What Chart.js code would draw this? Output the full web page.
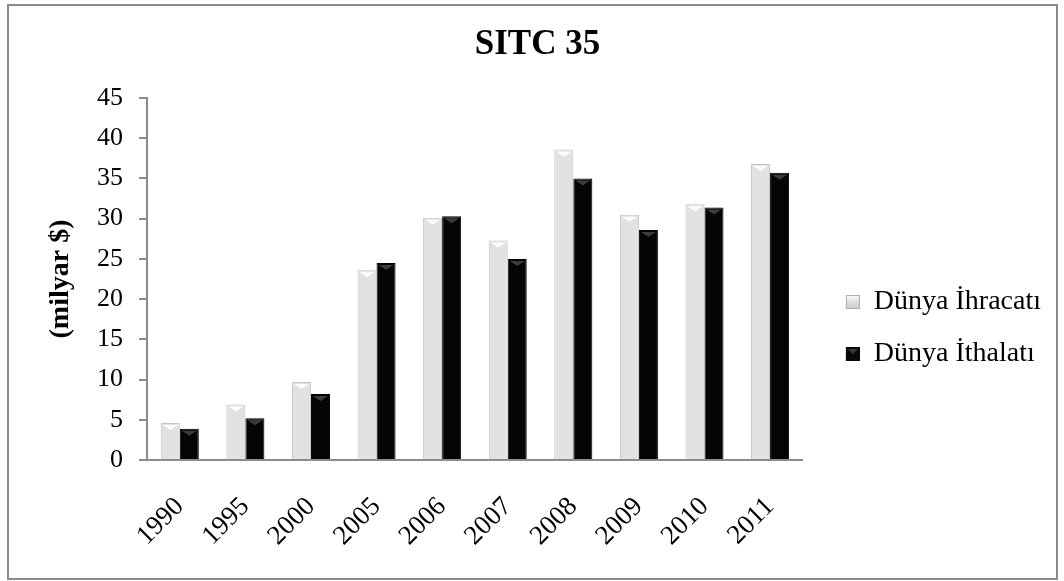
<!DOCTYPE html>
<html>
<head>
<meta charset="utf-8">
<script src="https://cdn.jsdelivr.net/npm/chart.js@4"></script>
<style>
  html, body { margin: 0; padding: 0; background: #fff; overflow: hidden; }
  #sitcChart { position: absolute; left: 0; top: 0; display: block; }
  #frame {
    position: absolute; left: 7px; top: 4px;
    width: 1047px; height: 572px;
    border: 2px solid #8c8c8c;
    pointer-events: none;
  }
</style>
</head>
<body>
<canvas id="sitcChart" width="1064" height="581"></canvas>
<div id="frame"></div>
<script>
const years = ["1990", "1995", "2000", "2005", "2006", "2007", "2008", "2009", "2010", "2011"];
const exports = [4.6, 6.9, 9.7, 23.6, 30.1, 27.3, 38.6, 30.5, 31.8, 36.8];
const imports = [3.9, 5.2, 8.2, 24.5, 30.3, 25.0, 35.0, 28.6, 31.4, 35.7];

const serif = "'Liberation Serif', 'DejaVu Serif', serif";

// light bars get a soft shading across their width
function exportFill(context) {
    const chart = context.chart;
    const el = context.element;
    if (!chart.chartArea || !el || el.width === undefined) return "#e2e2e2";
    const x0 = el.x - el.width / 2;
    const g = chart.ctx.createLinearGradient(x0, 0, x0 + el.width, 0);
    g.addColorStop(0, "#c2c2c2");
    g.addColorStop(0.2, "#ececec");
    g.addColorStop(0.55, "#f6f6f6");
    g.addColorStop(0.85, "#e8e8e8");
    g.addColorStop(1, "#cacaca");
    return g;
}

// legend marker: small square at the right end of a wider transparent image,
// so the square sits away from the plot like in the reference
function legendMarker(light) {
    const c = document.createElement("canvas");
    c.width = 33;
    c.height = 14;
    const g = c.getContext("2d");
    const x = 19;
    if (light) {
        const lg = g.createLinearGradient(0, 0, 0, 14);
        lg.addColorStop(0, "#fafafa");
        lg.addColorStop(1, "#c8c8c8");
        g.fillStyle = lg;
        g.fillRect(x, 0, 14, 14);
        g.strokeStyle = "#b0b0b0";
        g.strokeRect(x + 0.5, 0.5, 13, 13);
    } else {
        g.fillStyle = "#080808";
        g.fillRect(x, 0, 14, 14);
        g.fillStyle = "#3a3a3a";
        g.beginPath();
        g.moveTo(x + 2, 2);
        g.lineTo(x + 12, 2);
        g.lineTo(x + 7, 7);
        g.closePath();
        g.fill();
    }
    return c;
}
const markers = [legendMarker(true), legendMarker(false)];

// small bevel on top of every bar, placed from the bar elements themselves
const bevelTops = {
    id: "bevelTops",
    afterDatasetsDraw(chart) {
        const c = chart.ctx;
        chart.data.datasets.forEach((ds, di) => {
            chart.getDatasetMeta(di).data.forEach(bar => {
                const half = bar.width / 2 - 2;
                c.save();
                c.fillStyle = di === 0 ? "rgba(255,255,255,0.9)" : "#3c3c3c";
                c.beginPath();
                c.moveTo(bar.x - half, bar.y + 2);
                c.lineTo(bar.x + half, bar.y + 2);
                c.lineTo(bar.x, bar.y + 7);
                c.closePath();
                c.fill();
                c.restore();
            });
        });
    }
};

const ctx = document.getElementById("sitcChart").getContext("2d");

const sitcChart = new Chart(ctx, {
    type: "bar",
    data: {
        labels: years,
        datasets: [{
            label: "Dünya İhracatı",
            data: exports,
            backgroundColor: exportFill,
            borderColor: "#c4c4c4",
            borderWidth: 1
        }, {
            label: "Dünya İthalatı",
            data: imports,
            backgroundColor: "#050505",
            borderColor: "#000000",
            borderWidth: 1
        }]
    },
    plugins: [bevelTops],
    options: {
        responsive: false,
        animation: false,
        devicePixelRatio: 1,
        layout: { padding: { left: 24, right: 13, top: 0, bottom: 0 } },
        datasets: {
            bar: { categoryPercentage: 0.58, barPercentage: 1.0 }
        },
        plugins: {
            title: {
                display: true,
                text: "SITC 35",
                color: "#000",
                font: { family: serif, size: 35, weight: "bold" },
                padding: { top: 24, bottom: 32 }
            },
            legend: {
                position: "right",
                align: "center",
                // empty title only pushes the items down to the reference position
                title: {
                    display: true,
                    text: "",
                    font: { size: 10, lineHeight: 1 },
                    padding: { top: 65, bottom: 0 }
                },
                labels: {
                    color: "#000",
                    font: { family: serif, size: 28 },
                    usePointStyle: true,
                    pointStyleWidth: 33,
                    boxHeight: 14,
                    padding: 24,
                    generateLabels: chart => {
                        const items = Chart.defaults.plugins.legend.labels.generateLabels(chart);
                        items.forEach((it, i) => { it.pointStyle = markers[i]; });
                        return items;
                    }
                }
            },
            tooltip: { enabled: false }
        },
        scales: {
            x: {
                grid: { display: false, drawTicks: false },
                border: { color: "#8c8c8c", width: 2 },
                ticks: {
                    color: "#000",
                    font: { family: serif, size: 27 },
                    maxRotation: 45,
                    minRotation: 45,
                    padding: 31,
                    labelOffset: 0
                },
                afterFit: s => { s.height = 121; }
            },
            y: {
                min: 0,
                max: 45,
                grid: { display: true, drawOnChartArea: false, drawTicks: true, tickLength: 8, color: "#8c8c8c", lineWidth: 2 },
                border: { color: "#8c8c8c", width: 2 },
                ticks: {
                    stepSize: 5,
                    color: "#000",
                    font: { family: serif, size: 26 },
                    padding: 16
                },
                title: {
                    display: true,
                    text: "(milyar $)",
                    color: "#000",
                    font: { family: serif, size: 28, weight: "bold" },
                    padding: { top: 20, bottom: 0 }
                },
                afterFit: s => { s.width = 123; }
            }
        }
    }
});
</script>
</body>
</html>
